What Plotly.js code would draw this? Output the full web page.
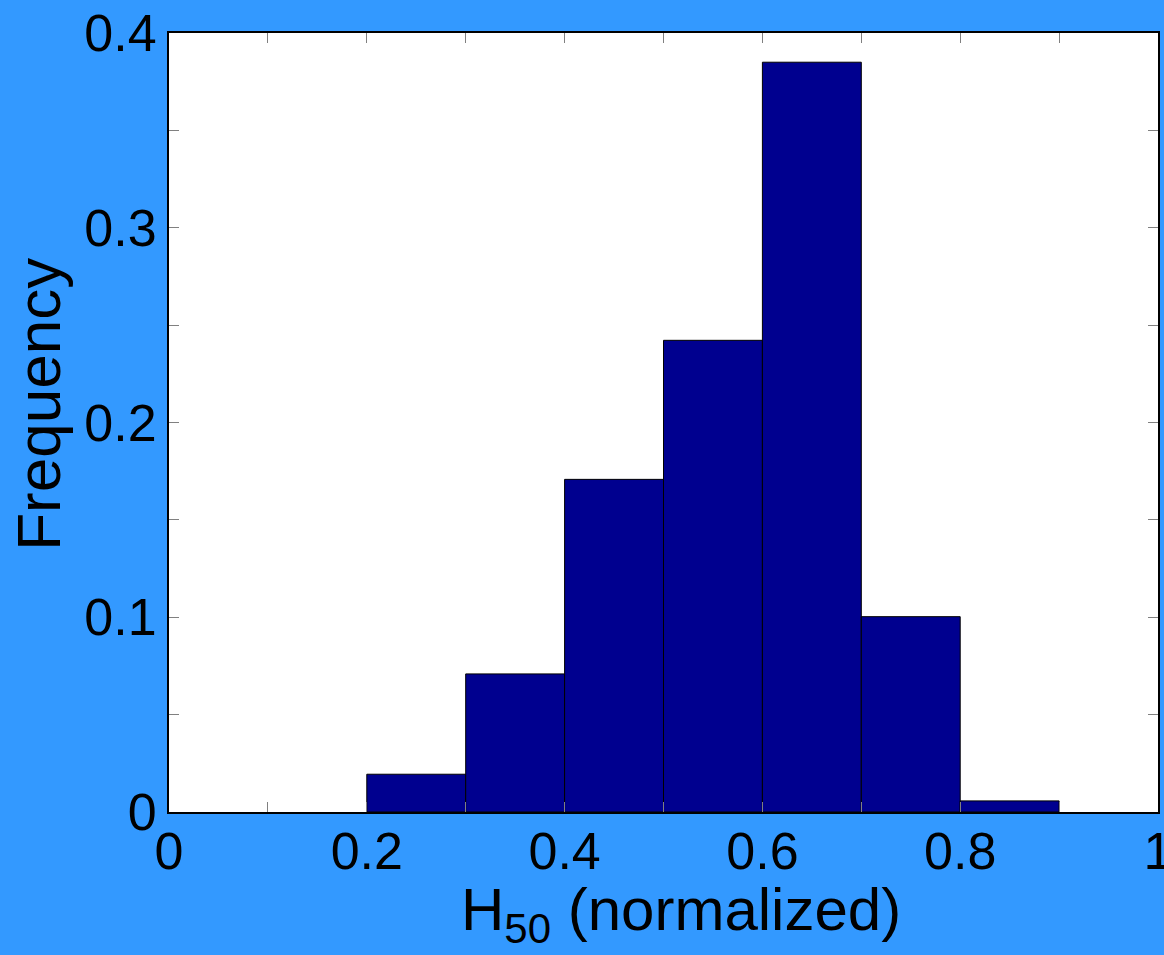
<!DOCTYPE html>
<html>
<head>
<meta charset="utf-8">
<script src="https://cdn.plot.ly/plotly-3.0.1.min.js"></script>
<style>
html,body{margin:0;padding:0;background:#3399FF;}
#chart{width:1164px;height:955px;}
</style>
</head>
<body>
<div id="chart"></div>
<script>
// Bin centers (bins of width 0.1, from 0.2 to 0.9)
const binCenters = [0.25, 0.35, 0.45, 0.55, 0.65, 0.75, 0.85];
const frequencies = [0.0194, 0.0709, 0.1708, 0.2422, 0.385, 0.1003, 0.0057];
const binWidth = 0.1;

const xTickVals = [0, 0.1, 0.2, 0.3, 0.4, 0.5, 0.6, 0.7, 0.8, 0.9, 1];
const xTickText = ['0', '', '0.2', '', '0.4', '', '0.6', '', '0.8', '', '1'];
const yTickVals = [0, 0.05, 0.1, 0.15, 0.2, 0.25, 0.3, 0.35, 0.4];
const yTickText = ['0', '', '0.1', '', '0.2', '', '0.3', '', '0.4'];

const xTitle = 'H<sub>50</sub> (normalized)';
const yTitle = 'Frequency';

const font = '"Liberation Sans", Arial, sans-serif';

const trace = {
  type: 'bar',
  x: binCenters,
  y: frequencies,
  width: binCenters.map(() => binWidth),
  marker: {color: '#00008F', line: {color: '#000000', width: 1}},
  hoverinfo: 'x+y'
};

const axisCommon = {
  showgrid: false,
  zeroline: false,
  showline: true,
  linecolor: '#000000',
  linewidth: 2,
  mirror: 'allticks',
  ticks: 'inside',
  ticklen: 10,
  tickwidth: 1,
  tickcolor: '#808080',
  tickmode: 'array',
  ticklabeloverflow: 'allow',
  tickfont: {family: font, size: 52, color: '#000000'}
};

const layout = {
  width: 1164,
  height: 955,
  margin: {l: 169, r: 6, t: 33, b: 143},
  paper_bgcolor: '#3399FF',
  plot_bgcolor: '#FFFFFF',
  showlegend: false,
  bargap: 0,
  xaxis: Object.assign({}, axisCommon, {
    range: [0, 1],
    tickvals: xTickVals,
    ticktext: xTickText,
    ticklabelstandoff: -7
  }),
  yaxis: Object.assign({}, axisCommon, {
    range: [0, 0.4],
    tickvals: yTickVals,
    ticktext: yTickText
  }),
  annotations: [
    {
      text: xTitle, xref: 'paper', yref: 'paper',
      x: 0.5177, y: -0.131, xanchor: 'center', yanchor: 'middle',
      showarrow: false, font: {family: font, size: 60, color: '#000000'}
    },
    {
      text: yTitle, xref: 'paper', yref: 'paper', textangle: -90,
      x: -0.1315, y: 0.524, xanchor: 'center', yanchor: 'middle',
      showarrow: false, font: {family: font, size: 62, color: '#000000'}
    }
  ]
};

Plotly.newPlot('chart', [trace], layout, {displayModeBar: false, staticPlot: true});
</script>
</body>
</html>
